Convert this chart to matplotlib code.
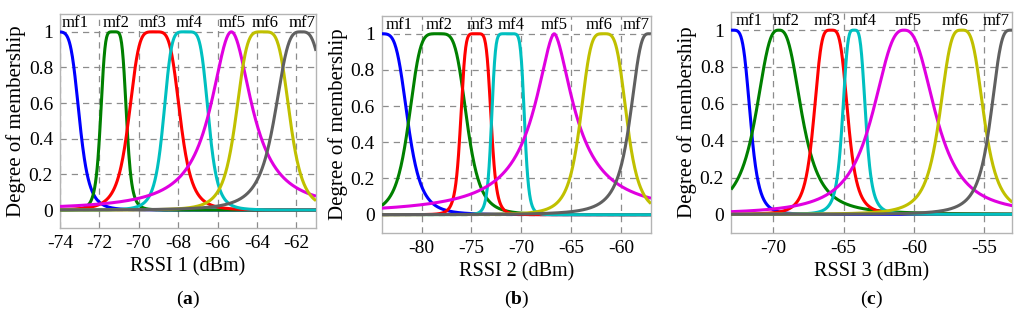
import numpy as np
import matplotlib
matplotlib.use("Agg")
import matplotlib.pyplot as plt

plt.rcParams['font.family'] = ['Liberation Serif', 'DejaVu Serif']
plt.rcParams['mathtext.fontset'] = 'custom'
plt.rcParams['mathtext.rm'] = 'Liberation Serif'
plt.rcParams['mathtext.bf'] = 'Liberation Serif:bold'

# Generalized-bell membership function parameters
mf_names = ["mf1", "mf2", "mf3", "mf4", "mf5", "mf6", "mf7"]
colors = ["#0000ff", "#008000", "#ff0000", "#00c0c0", "#e000e0", "#c0c000", "#606060"]

# Panel (a): RSSI 1
a_centers = [-74.3, -71.28, -69.2, -67.6, -65.3, -63.7, -61.75]
a_widths = [1.3, 0.67, 1.33, 1.16, 1.25, 1.4, 1.4]
a_slopes = [2.7, 2.7, 2.3, 2.6, 1.0, 2.2, 1.7]
a_label_x = [-73.23, -71.13, -69.3, -67.42, -65.28, -63.57, -61.69]
a_xlim = (-74, -61)
a_xticks = [-74, -72, -70, -68, -66, -64, -62]

# Panel (b): RSSI 2
b_centers = [-84.2, -78.37, -74.55, -71.33, -66.7, -61.75, -57.2]
b_widths = [2.87, 2.97, 1.55, 1.67, 2.5, 2.4, 2.0]
b_slopes = [2.2, 2.3, 3.0, 4.0, 0.85, 2.0, 1.5]
b_label_x = [-82.23, -78.27, -74.17, -71.0, -66.67, -62.23, -58.5]
b_xlim = (-84, -57)
b_xticks = [-80, -75, -70, -65, -60]

# Panel (c): RSSI 3
c_centers = [-73.0, -69.6, -65.9, -64.25, -60.7, -56.6, -53.1]
c_widths = [1.4, 1.75, 1.25, 0.85, 2.42, 1.65, 1.5]
c_slopes = [2.4, 1.4, 2.0, 2.0, 1.3, 1.7, 1.65]
c_label_x = [-71.72, -69.06, -66.18, -63.58, -60.4, -57.08, -54.15]
c_xlim = (-73, -53)
c_xticks = [-70, -65, -60, -55]

xlabels = ["RSSI 1 (dBm)", "RSSI 2 (dBm)", "RSSI 3 (dBm)"]
panel_tags = ["a", "b", "c"]
yticks = [0, 0.2, 0.4, 0.6, 0.8, 1]
ytick_labels = ["0", "0.2", "0.4", "0.6", "0.8", "1"]

panels = [
    (a_centers, a_widths, a_slopes, a_label_x, a_xlim, a_xticks),
    (b_centers, b_widths, b_slopes, b_label_x, b_xlim, b_xticks),
    (c_centers, c_widths, c_slopes, c_label_x, c_xlim, c_xticks),
]

positions = [
    [0.0586, 0.301, 0.2500, 0.656],
    [0.3727, 0.286, 0.2630, 0.666],
    [0.7139, 0.286, 0.2747, 0.678],
]

fig = plt.figure(figsize=(10.24, 3.26), dpi=100)

for i, (cen, wid, slo, lx, xlim, xt) in enumerate(panels):
    ax = fig.add_axes(positions[i])
    x = np.linspace(xlim[0], xlim[1], 600)
    for j in range(7):
        y = 1.0 / (1.0 + np.abs((x - cen[j]) / wid[j]) ** (2 * slo[j]))
        ax.plot(x, y, color=colors[j], lw=2.2, solid_capstyle='butt', zorder=3)
        ax.text(lx[j], 1.05, mf_names[j], ha='center', va='center',
                fontsize=12, zorder=4)
    ax.set_xlim(*xlim)
    ax.set_ylim(-0.1, 1.1)
    ax.set_xticks(xt)
    ax.set_xticklabels([str(v) for v in xt])
    ax.set_yticks(yticks)
    ax.set_yticklabels(ytick_labels)
    ax.tick_params(length=0, labelsize=14, pad=5)
    ax.grid(True, color='#8c8c8c', linestyle=(0, (5, 4)), lw=0.9)
    ax.set_axisbelow(True)
    for s in ax.spines.values():
        s.set_color('#b4b4b4')
        s.set_linewidth(1.0)
    ax.set_xlabel(xlabels[i], fontsize=14.5, labelpad=4)
    ax.set_ylabel("Degree of membership", fontsize=15, labelpad=2)
    cx = positions[i][0] + positions[i][2] / 2
    fig.text(cx, 0.08, r"($\mathbf{" + panel_tags[i] + r"}$)", ha='center',
             va='center', fontsize=14)

fig.savefig("out.png", dpi=100)
